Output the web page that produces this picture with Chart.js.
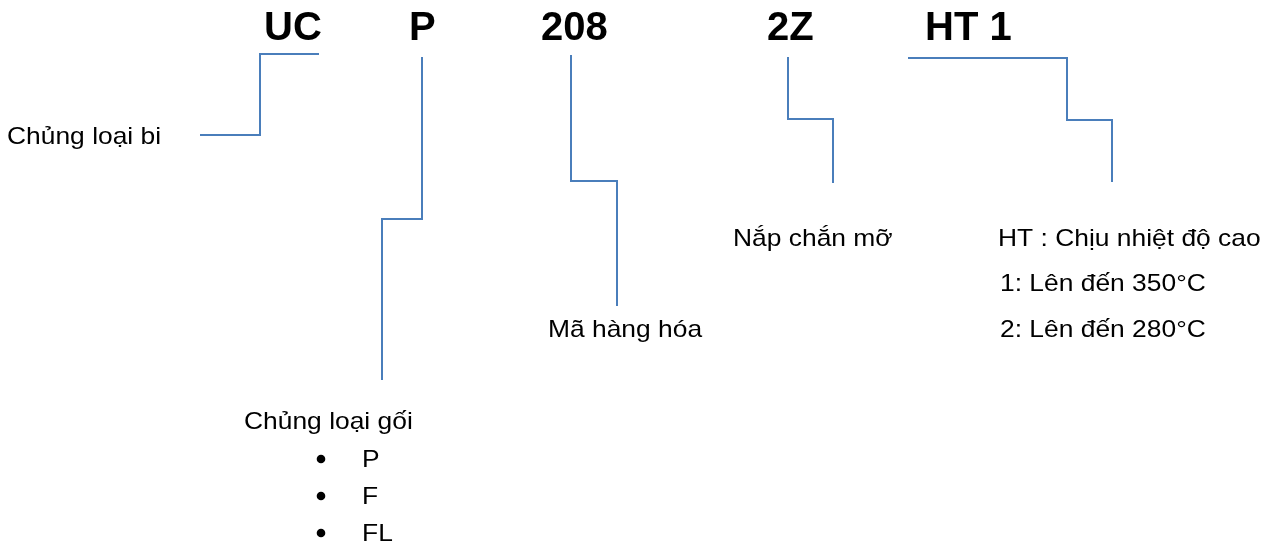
<!DOCTYPE html>
<html lang="vi">
<head>
    <meta charset="UTF-8">
    <title>UCP 208 2Z HT1</title>
    <script src="https://cdn.jsdelivr.net/npm/chart.js"></script>
    <style>
        body { margin: 0; background: #fff; }
        canvas { display: block; }
    </style>
</head>
<body>
    <canvas id="chart" width="1271" height="542"></canvas>

    <script>
        // code parts of the bearing name
        const codes = ['UC', 'P', '208', '2Z', 'HT 1'];
        const codeX = [264, 409, 541, 767, 925];

        // leader lines, one per code part
        const ucX = [319, 260, 260, 200];
        const ucY = [54, 54, 135, 135];
        const pX = [422, 422, 382, 382];
        const pY = [57, 219, 219, 380];
        const n208X = [571, 571, 617, 617];
        const n208Y = [55, 181, 181, 306];
        const zX = [788, 788, 833, 833];
        const zY = [57, 119, 119, 183];
        const htX = [908, 1067, 1067, 1112, 1112];
        const htY = [58, 58, 120, 120, 182];

        // captions
        const captions = ['Chủng loại bi', 'Chủng loại gối', 'Mã hàng hóa', 'Nắp chắn mỡ',
            'HT : Chịu nhiệt độ cao', '1: Lên đến 350°C', '2: Lên đến 280°C'];
        const captionX = [7, 244, 548, 733, 998, 1000, 1000];
        const captionY = [144, 429, 337, 246, 246, 291, 337];

        // bullet list under "Chủng loại gối"
        const bulletItems = ['P', 'F', 'FL'];
        const bulletY = [459, 496, 533];

        const leaderColor = '#4a7ebb';

        function pts(xs, ys) {
            return xs.map((x, i) => ({ x: x, y: ys[i] }));
        }

        const leaders = [[ucX, ucY], [pX, pY], [n208X, n208Y], [zX, zY], [htX, htY]];

        const datasets = leaders.map(l => ({
            data: pts(l[0], l[1]),
            showLine: true,
            borderColor: leaderColor,
            borderWidth: 2,
            pointRadius: 0,
            tension: 0
        }));

        datasets.push({
            data: bulletY.map(y => ({ x: 321, y: y })),
            showLine: false,
            pointRadius: 4.3,
            pointBackgroundColor: '#000',
            pointBorderWidth: 0
        });

        const textPlugin = {
            id: 'texts',
            afterDatasetsDraw(chart) {
                const ctx = chart.ctx;
                const sx = chart.scales.x, sy = chart.scales.y;
                ctx.save();
                ctx.fillStyle = '#000';
                ctx.textAlign = 'left';
                ctx.textBaseline = 'alphabetic';

                ctx.font = 'bold 40px "Liberation Sans", Arial, sans-serif';
                codes.forEach((c, i) => {
                    ctx.fillText(c, sx.getPixelForValue(codeX[i]), sy.getPixelForValue(40));
                });

                ctx.font = '24px "Liberation Sans", Arial, sans-serif';
                const drawWide = (t, x, y) => {
                    ctx.save();
                    ctx.translate(sx.getPixelForValue(x), sy.getPixelForValue(y));
                    ctx.scale(1.1, 1);
                    ctx.fillText(t, 0, 0);
                    ctx.restore();
                };
                captions.forEach((c, i) => drawWide(c, captionX[i], captionY[i]));
                bulletItems.forEach((b, i) => drawWide(b, 362, bulletY[i] + 8));
                ctx.restore();
            }
        };

        new Chart(document.getElementById('chart').getContext('2d'), {
            type: 'scatter',
            data: { datasets: datasets },
            options: {
                responsive: false,
                animation: false,
                layout: { padding: 0, autoPadding: false },
                plugins: {
                    legend: { display: false },
                    tooltip: { enabled: false }
                },
                scales: {
                    x: { type: 'linear', min: 0, max: 1271, display: false },
                    y: { type: 'linear', min: 0, max: 542, reverse: true, display: false }
                }
            },
            plugins: [textPlugin]
        });
    </script>
</body>
</html>
